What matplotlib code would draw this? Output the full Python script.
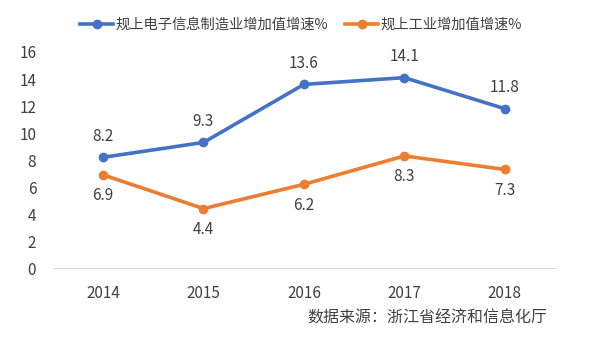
import matplotlib.pyplot as plt

plt.rcParams['font.family'] = ['Noto Sans CJK SC', 'DejaVu Sans']

years = ['2014', '2015', '2016', '2017', '2018']
electronic = [8.2, 9.3, 13.6, 14.1, 11.8]
industry = [6.9, 4.4, 6.2, 8.3, 7.3]
yticks = [0, 2, 4, 6, 8, 10, 12, 14, 16]

blue = '#4472C4'
orange = '#ED7D31'
txt = '#404040'

fig = plt.figure(figsize=(6, 3.37), dpi=100)
ax = fig.add_axes([0.088, 0.2047, 0.837, 0.641])

x = range(len(years))
ax.plot(x, electronic, color=blue, lw=2.6, marker='o', ms=6, label='规上电子信息制造业增加值增速%')
ax.plot(x, industry, color=orange, lw=2.6, marker='o', ms=6, label='规上工业增加值增速%')

for i, v in enumerate(electronic):
    ax.annotate(f'{v}', (i, v), xytext=(0, 9), textcoords='offset points',
                ha='center', va='bottom', fontsize=11, color=txt)
for i, v in enumerate(industry):
    ax.annotate(f'{v}', (i, v), xytext=(0, -9), textcoords='offset points',
                ha='center', va='top', fontsize=11, color=txt)

ax.set_xlim(-0.5, 4.5)
ax.set_ylim(0, 16)
ax.set_xticks(list(x))
ax.set_xticklabels(years)
ax.set_yticks(yticks)
ax.tick_params(length=0, labelsize=11, colors=txt)
ax.tick_params(axis='x', pad=12)
ax.tick_params(axis='y', pad=12)
for s in ['top', 'right', 'left']:
    ax.spines[s].set_visible(False)
ax.spines['bottom'].set_color('#d9d9d9')

ax.legend(loc='center', bbox_to_anchor=(0.494, 1.125), ncol=2, frameon=False,
          fontsize=10.3, labelcolor=txt, handlelength=2.3, handletextpad=0.15,
          columnspacing=1.2)

fig.text(0.913, 0.055, '数据来源：浙江省经济和信息化厅', ha='right', va='center',
         fontsize=11.5, color=txt)

fig.savefig('out.png', dpi=100, facecolor='white')
